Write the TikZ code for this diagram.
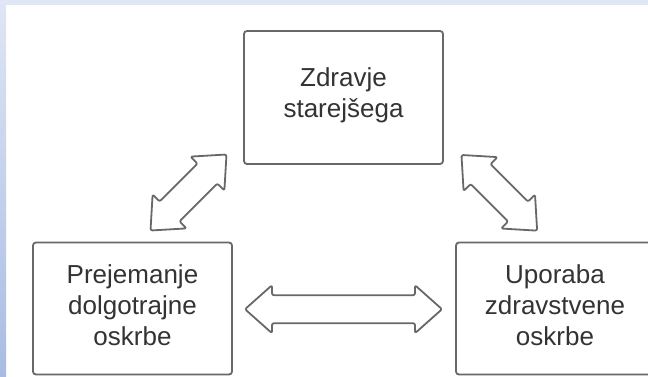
\documentclass[tikz,border=0pt]{standalone}
\usepackage{fontspec}
\setmainfont{Liberation Sans}
\definecolor{edge}{HTML}{686868}
\definecolor{ink}{HTML}{333333}
\definecolor{bgtop}{HTML}{DFE6F4}
\definecolor{bgbot}{HTML}{A8BCE3}
\tikzset{
  box/.style={draw=edge, line width=1.8pt, rounded corners=3pt, fill=white,
    minimum width=199pt, inner sep=0pt},
  lbl/.style={font=\fontsize{26}{31}\selectfont, text=ink, inner sep=0pt, anchor=base},
  barrow/.style={draw=edge, line width=1.8pt, rounded corners=2pt, fill=white, line join=round},
  pics/dblarrow/.style={code={
    \draw[barrow] (-#1,0) -- (-#1+27,-24) -- (-#1+27,-14) -- (#1-27,-14)
      -- (#1-27,-24) -- (#1,0) -- (#1-27,24) -- (#1-27,14) -- (-#1+27,14)
      -- (-#1+27,24) -- cycle;
  }},
}
\begin{document}
\begin{tikzpicture}[x=1pt, y=-1pt]
  \useasboundingbox (0,0) rectangle (648,376);
  \fill[white] (0,0) rectangle (648,376);
  \fill[bgtop] (0,0) rectangle (648,4.7);
  \shade[top color=bgtop, bottom color=bgbot] (0,0) rectangle (6,376);

  % boxes
  \node[box, minimum height=133pt] (health) at (343.5,97.5) {};
  \node[box, minimum height=132pt] (ltc) at (132.5,308.5) {};
  \node[box, minimum height=132pt] (care) at (555.5,308.5) {};

  % labels
  \node[lbl] (h1) at (343.5,86) {Zdravje};
  \node[lbl] (h2) at (343.5,117) {starejšega};
  \node[lbl] (l1) at (132.5,283.5) {Prejemanje};
  \node[lbl] (l2) at (132.5,314.5) {dolgotrajne};
  \node[lbl] (l3) at (132.5,345.5) {oskrbe};
  \node[lbl] (c1) at (555,283.5) {Uporaba};
  \node[lbl] (c2) at (555,314.5) {zdravstvene};
  \node[lbl] (c3) at (555,345.5) {oskrbe};

  % block double arrows
  \coordinate (aL) at (188.5,192.5);
  \coordinate (aR) at (499.3,192.8);
  \coordinate (aH) at (343.5,309.2);
  \pic[rotate=45] at (aL) {dblarrow=53.75};
  \pic[rotate=-45] at (aR) {dblarrow=53.5};
  \pic at (aH) {dblarrow=98.5};
\end{tikzpicture}
\end{document}
